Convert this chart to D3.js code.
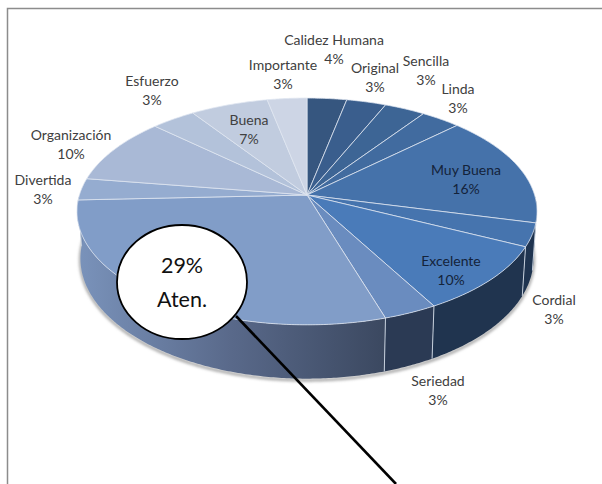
<!DOCTYPE html>
<html>
<head>
<meta charset="utf-8">
<script src="https://cdn.jsdelivr.net/npm/d3@7"></script>
<style>
  html, body { margin: 0; padding: 0; background: #fff; }
  svg { display: block; }
  text { font-family: Lato, "Open Sans", sans-serif; }
</style>
</head>
<body>
<div id="chart"></div>
<script>
// slice names, clockwise from 12 o'clock
const categories = ['Calidez Humana', 'Original', 'Sencilla', 'Linda', 'Muy Buena', 'Cordial', 'Excelente',
  'Seriedad', 'Atención', 'Divertida', 'Organización', 'Esfuerzo', 'Buena', 'Importante'];
// what each slice measures on the picture
const shares = [3.2, 3.2, 3.3, 3.2, 16, 3.3, 9.7, 3.3, 29.1, 3.1, 9.5, 3.6, 6.3, 3.2];
// what the labels print
const percentLabels = ['4%', '3%', '3%', '3%', '16%', '3%', '10%', '3%', '29%', '3%', '10%', '3%', '7%', '3%'];

const topColors = ['#36567f', '#3a5e8d', '#3d6595', '#416b9f', '#4572aa', '#4674ae', '#4a7bb9',
  '#6a8cbf', '#819dc8', '#95acd0', '#a9b9d6', '#b3c2da', '#c1ccdf', '#cdd5e5'];
const sideColors = ['#2a4060', '#2a4060', '#2a4060', '#2a4060', '#1c3049', '#1f3450', '#20344f',
  '#2b3a54', 'url(#atenSide)', '#7088ad', '#7088ad', '#7088ad', '#7088ad', '#7088ad'];

// label centres, in the same order as categories (Atención goes in the callout)
const labelX = [334, 375, 426, 458, 466, 554, 451, 438, null, 43, 71, 152, 249, 283];
const labelY = [40, 68, 61, 89, 170, 300, 261, 381, null, 180, 135, 81, 120, 65];

const width = 602;
const height = 484;

// tilted disc with some perspective: the far side of the pie is squeezed
const apexX = 307, apexY = 195;
const scaleX = 227.6, scaleY = 111, persp = 0.145;
const wallCy = 211, wallScaleX = 0.985, wallScaleY = 1.06, wallDrop = 47;

function rim(a) {
  const w = 1 + persp * Math.cos(a);
  return [apexX + scaleX * Math.sin(a) / w, apexY - scaleY * Math.cos(a) / w];
}
function rimLow(a) {
  const p = rim(a);
  return [apexX + (p[0] - apexX) * wallScaleX, wallCy + (p[1] - wallCy) * wallScaleY + wallDrop];
}
function arcPoints(fn, a0, a1) {
  const n = Math.max(2, Math.ceil((a1 - a0) / 0.01));
  return d3.range(n + 1).map(i => fn(a0 + (a1 - a0) * i / n));
}

const line = d3.line();
const pie = d3.pie().sort(null).value(d => d);
const slices = pie(shares);

const svg = d3.select('#chart').append('svg')
  .attr('width', width)
  .attr('height', height);

const defs = svg.append('defs');
defs.append('filter').attr('id', 'soft')
  .attr('x', '-10%').attr('y', '-10%').attr('width', '120%').attr('height', '120%')
  .append('feGaussianBlur').attr('stdDeviation', 1.4);
const grad = defs.append('linearGradient').attr('id', 'atenSide')
  .attr('gradientUnits', 'userSpaceOnUse')
  .attr('x1', 77).attr('x2', 385).attr('y1', 0).attr('y2', 0);
grad.append('stop').attr('offset', '0').attr('stop-color', '#7a93bb');
grad.append('stop').attr('offset', '0.5').attr('stop-color', '#59698a');
grad.append('stop').attr('offset', '1').attr('stop-color', '#3b4860');

// frame, runs off the page on the right and at the bottom
svg.append('path')
  .attr('d', 'M7.5,484V8.5H602')
  .attr('fill', 'none')
  .attr('stroke', '#8c8c8c')
  .attr('stroke-width', 1.5);

// shadow under the wall
const frontFrom = Math.PI * 0.49, frontTo = Math.PI * 1.51;
svg.append('path')
  .attr('d', line(arcPoints(rimLow, frontFrom, frontTo).map(p => [p[0], p[1] + 1.5])))
  .attr('fill', 'none')
  .attr('stroke', '#9a9a9a')
  .attr('stroke-width', 2.5)
  .attr('filter', 'url(#soft)');

// wall
const wallFrom = Math.PI * 0.5, wallTo = Math.PI * 1.5;
const walls = svg.append('g');
slices.forEach((s, i) => {
  const a0 = Math.max(s.startAngle, wallFrom), a1 = Math.min(s.endAngle, wallTo);
  if (a1 <= a0) return;
  const pts = arcPoints(rim, a0, a1).concat(arcPoints(rimLow, a0, a1).reverse());
  walls.append('path')
    .attr('d', line(pts) + 'Z')
    .attr('fill', sideColors[i]);
  if (a0 > wallFrom) {
    walls.append('line')
      .attr('x1', rim(a0)[0]).attr('y1', rim(a0)[1])
      .attr('x2', rimLow(a0)[0]).attr('y2', rimLow(a0)[1])
      .attr('stroke', '#c4cedb')
      .attr('stroke-width', 1);
  }
});

// top face
svg.append('g').selectAll('path')
  .data(slices)
  .enter()
  .append('path')
  .attr('d', d => line([[apexX, apexY]].concat(arcPoints(rim, d.startAngle, d.endAngle))) + 'Z')
  .attr('fill', (d, i) => topColors[i])
  .attr('stroke', '#dfe6f1')
  .attr('stroke-opacity', 0.85)
  .attr('stroke-width', 0.9)
  .attr('stroke-linejoin', 'round');

// labels
const labels = svg.append('g')
  .attr('text-anchor', 'middle')
  .attr('font-size', 14);
categories.forEach((name, i) => {
  if (labelX[i] === null) return;
  const onSlice = name === 'Muy Buena' || name === 'Excelente';
  const fill = onSlice ? '#14233a' : '#404040';
  labels.append('text')
    .attr('x', labelX[i]).attr('y', labelY[i]).attr('dy', '0.35em')
    .attr('fill', fill).text(name);
  labels.append('text')
    .attr('x', labelX[i]).attr('y', labelY[i] + 19).attr('dy', '0.35em')
    .attr('fill', fill).text(percentLabels[i]);
});

// callout
svg.append('line')
  .attr('x1', 236).attr('y1', 316)
  .attr('x2', 396).attr('y2', 484)
  .attr('stroke', '#000')
  .attr('stroke-width', 2.6);
svg.append('ellipse')
  .attr('cx', 182).attr('cy', 282)
  .attr('rx', 65).attr('ry', 57)
  .attr('fill', '#fff')
  .attr('stroke', '#000')
  .attr('stroke-width', 1.8);
const callout = svg.append('g')
  .attr('text-anchor', 'middle')
  .attr('font-size', 21.5)
  .attr('fill', '#111');
callout.append('text').attr('x', 182).attr('y', 265).attr('dy', '0.35em').text(percentLabels[8]);
callout.append('text').attr('x', 182).attr('y', 299).attr('dy', '0.35em').text('Aten.');
</script>
</body>
</html>
